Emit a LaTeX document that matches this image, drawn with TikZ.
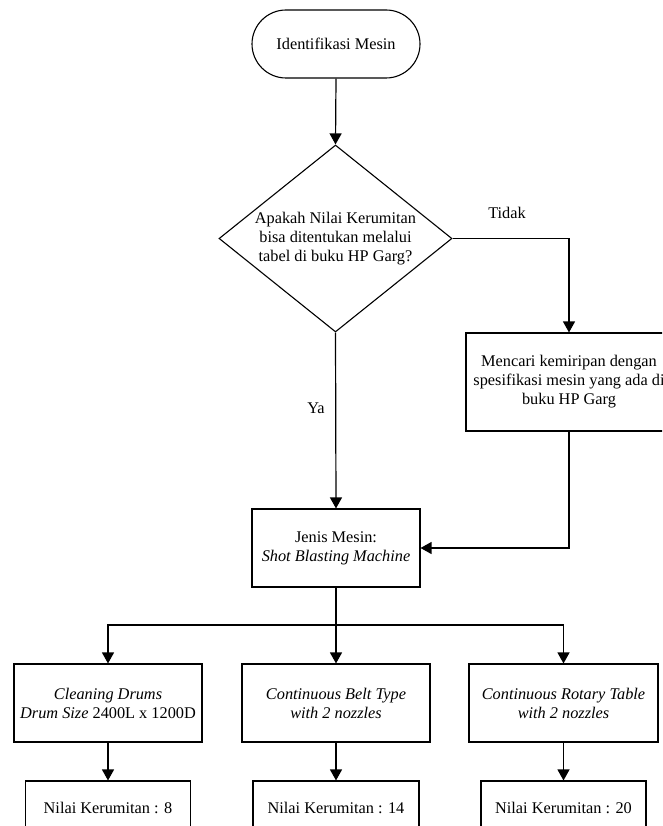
\documentclass[tikz,border=0pt]{standalone}
\usepackage{fontspec}
\setmainfont{Liberation Serif}
\usetikzlibrary{shapes.geometric,arrows.meta}
\begin{document}
\begin{tikzpicture}[x=1pt,y=-1pt,
  font=\fontsize{16.3}{19}\selectfont,
  every node/.style={inner sep=0pt, align=center},
  box/.style={draw, line width=1.1pt, rectangle},
  conn/.style={line width=1.2pt},
  arr/.style={conn, -{Triangle[length=11pt,width=12pt]}},
  lbl/.style={font=\fontsize{16.3}{19}\selectfont}
]
\path[use as bounding box, clip] (0,0) rectangle (662,826);
\node[box, rounded corners=34pt, minimum width=168pt, minimum height=68pt] (term) at (336,44) {Identifikasi Mesin};
\node[draw, line width=1.1pt, diamond, aspect=1.25, minimum width=233pt, minimum height=187pt] (dia) at (335.5,238.5) {};
\node (diatext) at (335.5,239) {Apakah Nilai Kerumitan\\bisa ditentukan melalui\\tabel di buku HP Garg?};
\node[box, minimum width=206pt, minimum height=98pt] (cari) at (569,382) {Mencari kemiripan dengan\\spesifikasi mesin yang ada di\\buku HP Garg};
\node[box, minimum width=168pt, minimum height=78pt] (jenis) at (336,548) {Jenis Mesin:\\\textit{Shot Blasting Machine}};
\node[box, minimum width=188pt, minimum height=78pt] (b1) at (108,703) {\textit{Cleaning Drums}\\\textit{Drum Size} 2400L x 1200D};
\node[box, minimum width=188pt, minimum height=78pt] (b2) at (336,703) {\textit{Continuous Belt Type}\\\textit{with 2 nozzles}};
\node[box, minimum width=189pt, minimum height=78pt] (b3) at (563.5,703) {\textit{Continuous Rotary Table}\\\textit{with 2 nozzles}};
\node[box, minimum width=165pt, minimum height=54pt] (n1) at (108,808) {Nilai Kerumitan : 8};
\node[box, minimum width=166pt, minimum height=54pt] (n2) at (336,808) {Nilai Kerumitan : 14};
\node[box, minimum width=165pt, minimum height=54pt] (n3) at (563.5,808) {Nilai Kerumitan : 20};
\coordinate (split) at (336,625);
\node[lbl] (tidak) at (507,213) {Tidak};
\node[lbl] (ya) at (316,408) {Ya};
\draw[arr] (term.south) -- (dia.north);
\draw[arr] (dia.east) -| (cari.north);
\draw[arr] (dia.south) -- (jenis.north);
\draw[arr] (cari.south) |- (jenis.east);
\draw[arr] (jenis.south) -- (b2.north);
\draw[arr] (split) -| (b1.north);
\draw[arr] (split) -| (b3.north);
\draw[arr] (b1.south) -- (n1.north);
\draw[arr] (b2.south) -- (n2.north);
\draw[arr] (b3.south) -- (n3.north);
\end{tikzpicture}
\end{document}
